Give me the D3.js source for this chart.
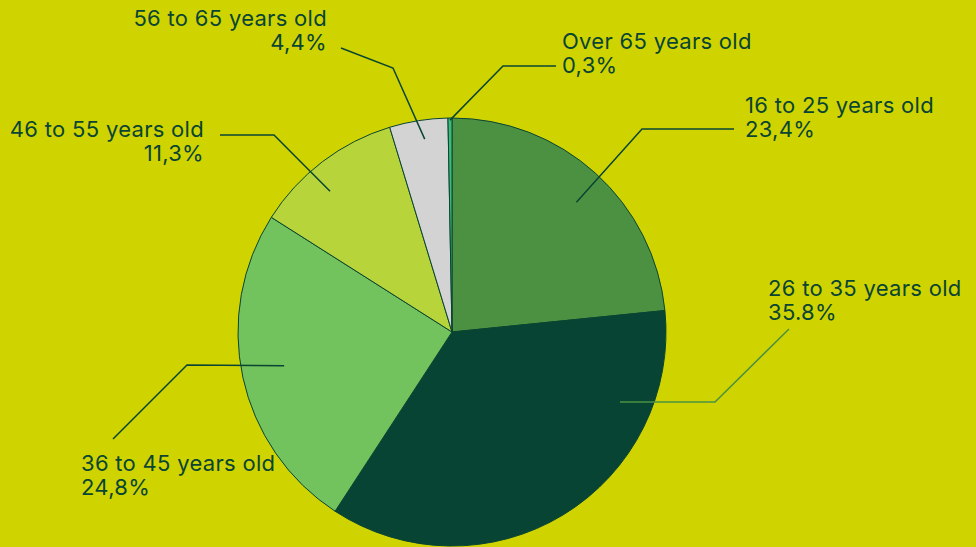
<!DOCTYPE html>
<html>
<head>
<meta charset="utf-8">
<script src="https://cdn.jsdelivr.net/npm/d3@7"></script>
<style>
  html, body { margin: 0; padding: 0; background: #cfd400; }
  svg { display: block; }
  text { font-family: "Inter", "Noto Sans", sans-serif; }
</style>
</head>
<body>
<svg id="chart" width="976" height="547"></svg>
<script>
// Age groups of respondents (share of total, %)
const categories = ["16 to 25 years old", "26 to 35 years old", "36 to 45 years old",
                    "46 to 55 years old", "56 to 65 years old", "Over 65 years old"];
const shares = [23.4, 35.8, 24.8, 11.3, 4.4, 0.3];
const shareLabels = ["23,4%", "35.8%", "24,8%", "11,3%", "4,4%", "0,3%"];
const colors = ["#4c9141", "#074433", "#72c25d", "#b7d43b", "#d3d3d3", "#3dbb7a"];

const W = 976, H = 547;
const cx = 452, cy = 332, R = 214;
const ink = "#0a4433";

// Label placement: where the leader starts inside each slice (fraction of the
// slice's sweep, fraction of the radius), its elbow and the text block,
// all relative to the pie centre.
const labelLayout = [
  { t: 0.52, k: 0.84, elbow: [190, -203], end: [282, -203], text: [293, -219], anchor: "start", stroke: ink },
  { t: 0.22, k: 0.85, elbow: [263, 70],  end: [337, -3],   text: [316, -36],  anchor: "start", stroke: "#4c9141" },
  { t: 0.51, k: 0.80, elbow: [-265, 33], end: [-339, 107], text: [-371, 139], anchor: "start", stroke: ink },
  { t: 0.41, k: 0.87, elbow: [-178, -197], end: [-232, -197], text: [-248, -195], anchor: "end", stroke: ink },
  { t: 0.56, k: 0.91, elbow: [-59, -264], end: [-111, -284], text: [-125, -306], anchor: "end", stroke: ink },
  { t: 0.50, k: 0.99, elbow: [51, -266], end: [104, -266],  text: [110, -283], anchor: "start", stroke: ink }
];

const svg = d3.select("#chart");
svg.append("rect").attr("width", W).attr("height", H).attr("fill", "#cfd400");

const g = svg.append("g").attr("transform", `translate(${cx},${cy})`);

const pie = d3.pie().sort(null).value(d => d);
const arcs = pie(shares);
const arc = d3.arc().innerRadius(0).outerRadius(R);

g.selectAll("path.slice")
  .data(arcs)
  .join("path")
  .attr("class", "slice")
  .attr("d", arc)
  .attr("fill", (d, i) => colors[i])
  .attr("stroke", ink)
  .attr("stroke-width", 1)
  .attr("stroke-linejoin", "round");

// Leader lines
g.selectAll("polyline.leader")
  .data(arcs)
  .join("polyline")
  .attr("class", "leader")
  .attr("fill", "none")
  .attr("stroke", (d, i) => labelLayout[i].stroke)
  .attr("stroke-width", 1.5)
  .attr("points", (d, i) => {
    const L = labelLayout[i];
    const a = d.startAngle + L.t * (d.endAngle - d.startAngle);
    const p = d3.pointRadial(a, R * L.k);
    return [p, L.elbow, L.end].map(q => q.join(",")).join(" ");
  });

// Labels: category name and share, two lines
const labels = g.selectAll("text.label")
  .data(arcs)
  .join("text")
  .attr("class", "label")
  .attr("fill", ink)
  .attr("font-size", 22)
  .attr("letter-spacing", 0.3)
  .attr("text-anchor", (d, i) => labelLayout[i].anchor)
  .attr("transform", (d, i) => `translate(${labelLayout[i].text[0]},${labelLayout[i].text[1]})`);

labels.append("tspan").attr("x", 0).attr("y", 0).text((d, i) => categories[i]);
labels.append("tspan").attr("x", 0).attr("y", 24).text((d, i) => shareLabels[i]);
</script>
</body>
</html>
